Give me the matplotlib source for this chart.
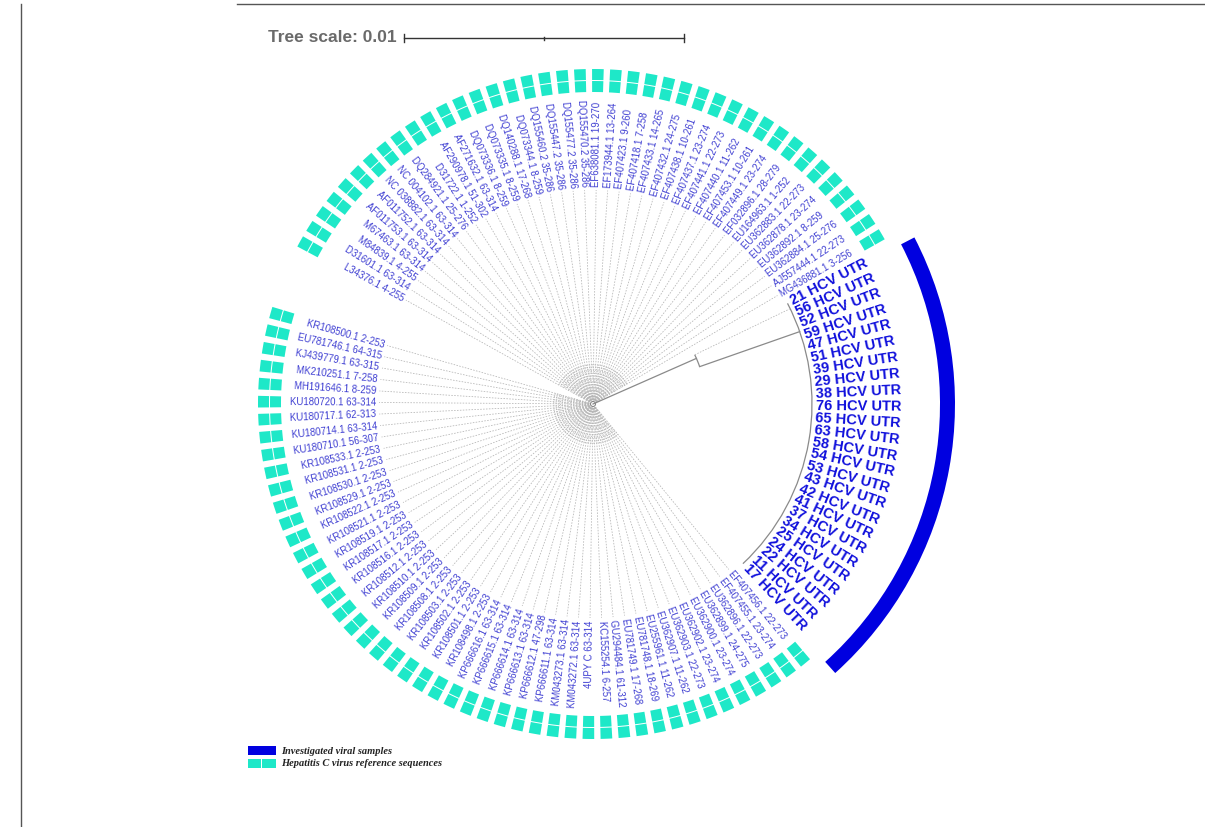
import numpy as np
import matplotlib
matplotlib.use("Agg")
import matplotlib.pyplot as plt
from matplotlib.patches import Wedge, Rectangle, Arc

# ---------------- data ----------------
hcv_samples = ["17", "11", "22", "24", "25", "34", "37", "41", "42", "43", "53", "54",
               "58", "63", "65", "76", "38", "29", "39", "51", "47", "59", "52", "56", "21"]

top_refs = ["MG436881.1 3-256", "AJ557444.1 22-273", "EU362884.1 25-276", "EU362892.1 8-259",
            "EU362878.1 23-274", "EU362883.1 22-273", "EU164963.1 1-252", "EF032896.1 28-279",
            "EF407449.1 23-274", "EF407453.1 10-261", "EF407440.1 11-262", "EF407441.1 22-273",
            "EF407437.1 23-274", "EF407438.1 10-261", "EF407432.1 24-275", "EF407433.1 14-265",
            "EF407418.1 7-258", "EF407423.1 9-260", "EF173944.1 13-264", "EF638081.1 19-270",
            "DQ155470.2 35-286", "DQ155477.2 35-286", "DQ155447.2 35-286", "DQ155460.2 35-286",
            "DQ073344.1 8-259", "DQ140288.1 17-268", "DQ073335.1 8-259", "DQ073336.1 8-259",
            "AF271632.1 63-314", "AF290978.1 51-302", "D31722.1 1-252", "DQ284921.1 25-276",
            "NC 004102.1 63-314", "NC 038882.1 63-314", "AF011752.1 63-314", "AF011753.1 63-314",
            "M67463.1 63-314", "M84839.1 4-255", "D31601.1 63-314", "L34376.1 4-255"]

bottom_refs = ["KR108500.1 2-253", "EU781746.1 64-315", "KJ439779.1 63-315", "MK210251.1 7-258",
               "MH191646.1 8-259", "KU180720.1 63-314", "KU180717.1 62-313", "KU180714.1 63-314",
               "KU180710.1 56-307", "KR108533.1 2-253", "KR108531.1 2-253", "KR108530.1 2-253",
               "KR108529.1 2-253", "KR108522.1 2-253", "KR108521.1 2-253", "KR108519.1 2-253",
               "KR108517.1 2-253", "KR108516.1 2-253", "KR108512.1 2-253", "KR108510.1 2-253",
               "KR108509.1 2-253", "KR108508.1 2-253", "KR108503.1 2-253", "KR108502.1 2-253",
               "KR108501.1 2-253", "KR108498.1 2-253", "KP666616.1 63-314", "KP666615.1 63-314",
               "KP666614.1 63-314", "KP666613.1 63-314", "KP666612.1 47-298", "KP666611.1 63-314",
               "KM043273.1 63-314", "KM043272.1 63-314", "4UPY C 63-314", "KC155254.1 6-257",
               "GU294484.1 61-312", "EU781749.1 17-268", "EU781748.1 18-269", "EU255961.1 11-262",
               "EU362907.1 11-262", "EU362903.1 22-273", "EU362902.1 23-274", "EU362900.1 23-274",
               "EU362899.1 24-275", "EU362896.1 22-273", "EF407455.1 23-274", "EF407456.1 22-273"]

tree_scale_label = "Tree scale: 0.01"
legend_labels = ["Investigated viral samples", "Hepatitis C virus reference sequences"]

# ---------------- layout / style ----------------
W, H = 1205, 827
CX, CY = 593, H - 404          # tree centre (data coords, y up)
STEP = 3.09                    # degrees between leaves
A0 = -46.8                     # angle of first HCV leaf
GAP = 10.1                     # extra gap on the left side
R_LAB = 217                    # label radius
R_HCV_ARC = 219
REF_COL = "#3f3fd2"
HCV_COL = "#1010dc"
CYAN = "#1ee8c8"
BLUE = "#0000e0"
GREY = "#b4b4b4"

fig = plt.figure(figsize=(W / 100, H / 100), dpi=100)
ax = fig.add_axes([0, 0, 1, 1])
ax.set_xlim(0, W)
ax.set_ylim(0, H)
ax.axis("off")


def pol(r, a):
    t = np.deg2rad(a)
    return CX + r * np.cos(t), CY + r * np.sin(t)


n_h, n_t, n_b = len(hcv_samples), len(top_refs), len(bottom_refs)
ang_h = A0 + STEP * np.arange(n_h)
ang_t = A0 + STEP * (n_h + np.arange(n_t))
ang_b = A0 + STEP * (n_h + n_t + np.arange(n_b)) + GAP

dash = (0, (2.0, 1.8))

# concentric ladder arcs near the root
for k, r in enumerate(np.arange(4, 41, 2.2)):
    ax.add_patch(Arc((CX, CY), 2 * r, 2 * r, theta1=ang_t[0], theta2=ang_t[-1],
                     color=GREY, lw=0.55, ls=dash))
    ax.add_patch(Arc((CX, CY), 2 * r, 2 * r, theta1=ang_b[0], theta2=ang_b[-1],
                     color=GREY, lw=0.55, ls=dash))
ax.add_patch(Arc((CX, CY), 5, 5, theta1=0, theta2=360, color="#888888", lw=0.8))


def label(text, a, r, **kw):
    x, y = pol(r, a)
    aa = a % 360
    if 90 < aa < 270:
        rot, ha = aa - 180, "right"
    else:
        rot, ha = (aa if aa <= 90 else aa - 360), "left"
    ax.text(x, y, text, rotation=rot, ha=ha, va="center",
            rotation_mode="anchor", **kw)


# reference leaves: dashed leaders, labels, cyan markers
for names, angs in ((top_refs, ang_t), (bottom_refs, ang_b)):
    for name, a in zip(names, angs):
        x0, y0 = pol(4, a)
        x1, y1 = pol(R_LAB - 3, a)
        ax.plot([x0, x1], [y0, y1], color=GREY, lw=0.55, ls=dash)
        label(name, a, R_LAB, fontsize=6.9, color=REF_COL, family="Liberation Sans")
        for r_out in (323, 335):
            ax.add_patch(Wedge((CX, CY), r_out, a - 1.0, a + 1.0, width=11,
                               facecolor=CYAN, edgecolor="none"))

# HCV clade branches
xa, ya = pol(0, 23.8)
xb, yb = pol(113, 23.8)
ax.plot([xa, xb], [ya, yb], color="#8a8a8a", lw=0.9)
ax.add_patch(Arc((CX, CY), 226, 226, theta1=19.3, theta2=25.8, color="#8a8a8a", lw=0.9))
xc, yc = pol(113, 25.8)
xd, yd = pol(R_HCV_ARC, 25.8)
ax.plot([xc, xd], [yc, yd], color=GREY, lw=0.55, ls=dash)
xe, ye = pol(113, 19.3)
xf, yf = pol(R_HCV_ARC, 19.3)
ax.plot([xe, xf], [ye, yf], color="#8a8a8a", lw=0.9)
ax.add_patch(Arc((CX, CY), 2 * R_HCV_ARC, 2 * R_HCV_ARC, theta1=ang_h[0], theta2=ang_h[-1],
                 color="#8a8a8a", lw=0.9))
for s, a in zip(hcv_samples, ang_h):
    label(f"{s} HCV UTR", a, R_HCV_ARC + 4, fontsize=10.5, fontweight="bold",
          color=HCV_COL, family="Liberation Sans")

# blue outer arc for investigated samples
ax.add_patch(Wedge((CX, CY), 362, -48.0, 27.4, width=15,
                   facecolor=BLUE, edgecolor="none"))

# tree scale
ax.text(268, H - 38, tree_scale_label, fontsize=12.5, fontweight="bold", color="#6a6a6a",
        family="Liberation Sans", ha="left", va="center")
ax.plot([404, 684], [H - 38, H - 38], color="#333333", lw=1.0)
for xt, h in ((404, 4), (684, 4), (544, 1.5)):
    ax.plot([xt, xt], [H - 38 - h, H - 38 + h], color="#333333", lw=1.0)

# legend
ax.add_patch(Rectangle((248, H - 755), 28, 9, facecolor=BLUE, edgecolor="none"))
ax.add_patch(Rectangle((248, H - 768), 13, 9, facecolor=CYAN, edgecolor="none"))
ax.add_patch(Rectangle((262, H - 768), 14, 9, facecolor=CYAN, edgecolor="none"))
ax.text(281, H - 751, legend_labels[0], fontsize=7.5, fontweight="bold", style="italic",
        family="Liberation Serif", color="#222222", va="center")
ax.text(281, H - 764, legend_labels[1], fontsize=7.5, fontweight="bold", style="italic",
        family="Liberation Serif", color="#222222", va="center")

# frame lines
ax.plot([237, W], [H - 4, H - 4], color="#555555", lw=1.0)
ax.plot([21, 21], [0, H - 4], color="#555555", lw=1.0)

fig.savefig("out.png", dpi=100)
